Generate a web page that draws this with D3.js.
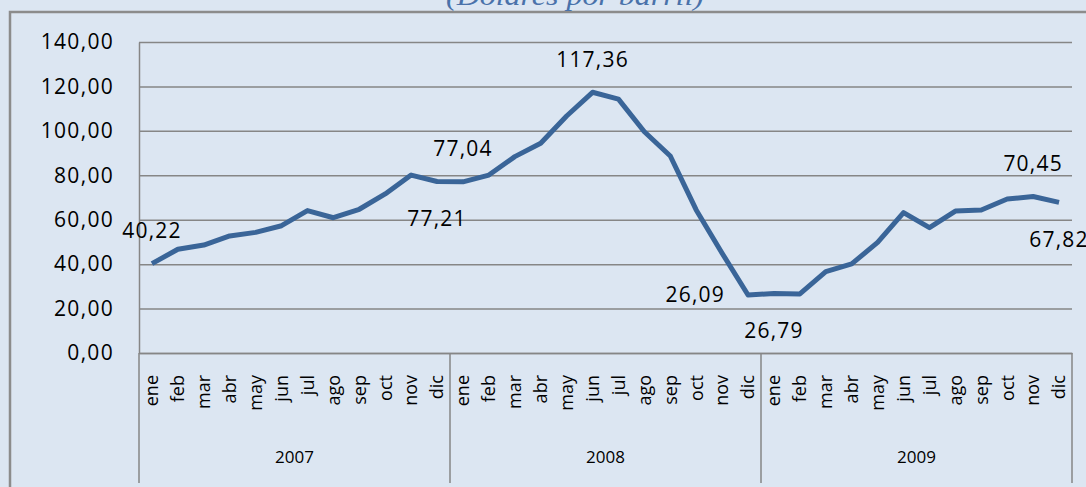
<!DOCTYPE html>
<html>
<head>
<meta charset="utf-8">
<script src="https://cdnjs.cloudflare.com/ajax/libs/d3/7.8.5/d3.min.js"></script>
<style>
  html, body { margin: 0; padding: 0; background: #dce6f2; overflow: hidden; }
  svg { display: block; font-family: "Open Sans", sans-serif; }
</style>
</head>
<body>
<div id="chart"></div>
<script>
// data
var years = ["2007", "2008", "2009"];
var months = ["ene", "feb", "mar", "abr", "may", "jun", "jul", "ago", "sep", "oct", "nov", "dic"];
var prices = [
  40.22, 46.7, 48.6, 52.7, 54.3, 57.3, 64.1, 60.9, 64.7, 71.6, 80.1, 77.21,
  77.04, 80.1, 88.4, 94.4, 106.7, 117.36, 114.3, 99.6, 88.7, 64.4, 44.9, 26.09,
  26.79, 26.6, 36.6, 40.1, 49.8, 63.2, 56.4, 63.9, 64.4, 69.3, 70.45, 67.82
];
var yTicks = [0, 20, 40, 60, 80, 100, 120, 140];
var labelled = [0, 11, 12, 17, 23, 24, 34, 35];

var svgWidth = 1086;
var svgHeight = 487;

var margin = { top: 42, left: 139, right: 14, bottom: 134 };
var w = svgWidth - margin.left - margin.right;
var h = svgHeight - margin.top - margin.bottom;

var svg = d3.select("#chart")
  .append("svg")
  .attr("width", svgWidth)
  .attr("height", svgHeight);

// chart area frame (only top and left edges show)
svg.append("rect")
  .attr("x", 10)
  .attr("y", 12)
  .attr("width", 1100)
  .attr("height", 500)
  .attr("fill", "#dce6f2")
  .attr("stroke", "#8c8c8c")
  .attr("stroke-width", 2.5);

// title, mostly cut off at the top
svg.append("text")
  .attr("x", 575)
  .attr("y", 5)
  .attr("text-anchor", "middle")
  .attr("font-family", "Liberation Serif, serif")
  .attr("font-style", "italic")
  .attr("font-size", 28)
  .attr("fill", "#4a72aa")
  .attr("textLength", 258)
  .attr("lengthAdjust", "spacingAndGlyphs")
  .text("(Dólares por barril)");

var chartGroup = svg.append("g")
  .attr("transform", `translate(${margin.left}, ${margin.top})`);

var seq = d3.range(prices.length);

var xScale = d3.scaleBand().domain(seq).range([0, w]);
var yScale = d3.scaleLinear().domain([0, 140]).range([h, 0]);

var fmt = function (v) { return d3.format(".2f")(v).replace(".", ","); };

// gridlines
var grid = chartGroup.append("g")
  .call(d3.axisLeft(yScale).tickValues(yTicks).tickSize(-w).tickFormat(""));
grid.select(".domain").remove();
grid.selectAll("line")
  .attr("stroke", "#868686")
  .attr("stroke-width", 1.5);

// y axis
var yAxis = chartGroup.append("g")
  .call(d3.axisLeft(yScale).tickValues(yTicks).tickSize(0).tickPadding(25).tickFormat(fmt));
yAxis.select(".domain").attr("stroke", "#868686").attr("stroke-width", 1.5);
yAxis.selectAll("text")
  .attr("font-family", "Open Sans")
  .attr("font-size", 21)
  .attr("letter-spacing", "1.3px")
  .attr("fill", "#000");

// category axis: months
var xAxis = chartGroup.append("g")
  .attr("transform", `translate(0, ${h})`)
  .call(d3.axisBottom(xScale).tickSize(0).tickFormat(function (d) { return months[d % 12]; }));
xAxis.select(".domain").attr("stroke", "#868686").attr("stroke-width", 1.5);
xAxis.selectAll("text")
  .attr("font-family", "Open Sans")
  .attr("font-size", 18)
  .attr("fill", "#000")
  .attr("text-anchor", "end")
  .attr("transform", "rotate(-90)")
  .attr("x", -22)
  .attr("y", 0)
  .attr("dy", "0.35em");

// year separators and labels
var groupW = w / years.length;
chartGroup.selectAll(".sep")
  .data(d3.range(years.length + 1))
  .enter()
  .append("line")
  .attr("x1", d => d * groupW)
  .attr("x2", d => d * groupW)
  .attr("y1", h)
  .attr("y2", h + 130)
  .attr("stroke", "#868686")
  .attr("stroke-width", 1.5);

chartGroup.selectAll(".year")
  .data(years)
  .enter()
  .append("text")
  .attr("x", (d, i) => (i + 0.5) * groupW)
  .attr("y", h + 104)
  .attr("dy", "0.35em")
  .attr("text-anchor", "middle")
  .attr("font-size", 17)
  .attr("fill", "#000")
  .text(d => d);

// price line
var line = d3.line()
  .x((d, i) => xScale(i) + xScale.bandwidth() / 2)
  .y(d => yScale(d));

chartGroup.append("path")
  .datum(prices)
  .attr("d", line)
  .attr("fill", "none")
  .attr("stroke", "#3a6598")
  .attr("stroke-width", 5)
  .attr("stroke-linejoin", "round");

// data labels
var labelPos = { 0: "above", 11: "below", 12: "above", 17: "above", 23: "left", 24: "below", 34: "above", 35: "below" };

chartGroup.selectAll(".lbl")
  .data(labelled)
  .enter()
  .append("text")
  .attr("x", function (i) {
    var cx = xScale(i) + xScale.bandwidth() / 2;
    return labelPos[i] === "left" ? cx - 23 : cx;
  })
  .attr("y", function (i) {
    var cy = yScale(prices[i]);
    if (labelPos[i] === "above") return cy - 33;
    if (labelPos[i] === "below") return cy + 37;
    return cy;
  })
  .attr("dy", "0.35em")
  .attr("text-anchor", i => labelPos[i] === "left" ? "end" : "middle")
  .attr("font-size", 21)
  .attr("letter-spacing", "1.2px")
  .attr("fill", "#000")
  .text(i => fmt(prices[i]));
</script>
</body>
</html>
